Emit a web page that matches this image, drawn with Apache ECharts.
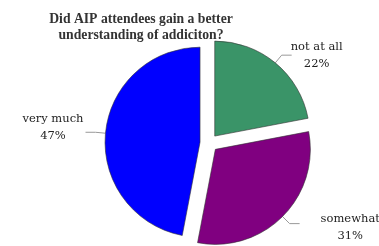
<!DOCTYPE html>
<html>
<head>
<meta charset="utf-8">
<script src="https://cdn.jsdelivr.net/npm/echarts@6/dist/echarts.min.js"></script>
<style>
  html, body { margin: 0; padding: 0; background: #fff; }
  #chart { width: 379px; height: 246px; }
</style>
</head>
<body>
<div id="chart"></div>
<script>
// answers and share of attendees (%)
const answers = ['not at all', 'somewhat', 'very much']
const shares = [22, 31, 47]
const sliceColors = ['#3a9468', '#800080', '#0000ff']

// nudges for the outside labels
const labelNudge = [[-6, 0], [16, 4], [3, -5]]

const chart = echarts.init(document.getElementById('chart'))

const option = {
  animation: false,
  title: {
    text: 'Did AIP attendees gain a better\nunderstanding of addiciton?',
    left: 136,
    top: 6,
    textAlign: 'center',
    textStyle: {
      fontFamily: 'Liberation Serif',
      fontWeight: 'bold',
      fontSize: 13.7,
      lineHeight: 16,
      color: '#333'
    }
  },
  series: [
    {
      type: 'pie',
      center: [209, 143],
      radius: 95,
      startAngle: 90,
      clockwise: true,
      selectedMode: 'multiple',
      selectedOffset: 9,
      data: answers.map((name, i) => ({
        name,
        value: shares[i],
        selected: true,
        itemStyle: { color: sliceColors[i] }
      })),
      itemStyle: { borderColor: '#333', borderWidth: 0.6 },
      label: {
        formatter: '{t|{b}}\n{t|{c}%}',
        rich: {
          t: {
            fontFamily: 'DejaVu Serif',
            fontSize: 11.5,
            lineHeight: 17,
            color: '#222',
            align: 'center'
          }
        }
      },
      labelLine: {
        length: 10,
        length2: 10,
        lineStyle: { color: '#999', width: 1 }
      },
      labelLayout: (params) => ({
        dx: labelNudge[params.dataIndex][0],
        dy: labelNudge[params.dataIndex][1]
      })
    }
  ]
}

chart.setOption(option)
</script>
</body>
</html>
